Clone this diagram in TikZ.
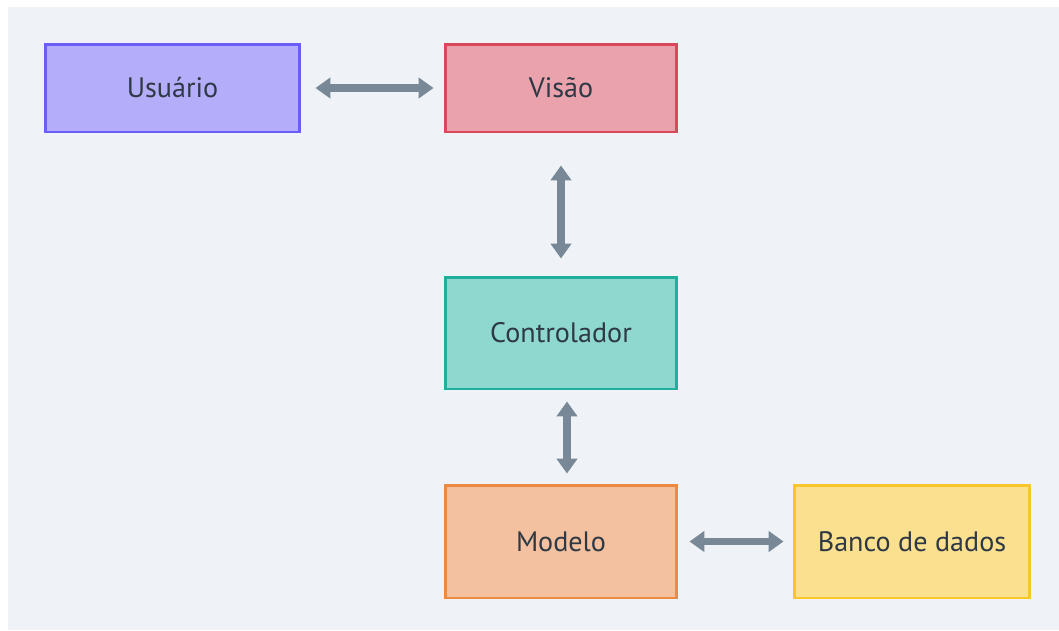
\documentclass[tikz,border=0pt]{standalone}
\usepackage{fontspec}
\setmainfont{PT Sans}
\usetikzlibrary{arrows.meta}
\definecolor{panelbg}{HTML}{EFF3F7}
\definecolor{labeltext}{HTML}{2E3945}
\definecolor{linkgray}{HTML}{788896}
\definecolor{userfill}{HTML}{B3ADFA}
\definecolor{userdraw}{HTML}{6B5EF5}
\definecolor{viewfill}{HTML}{EAA3AD}
\definecolor{viewdraw}{HTML}{D9485B}
\definecolor{ctrlfill}{HTML}{8FD8CF}
\definecolor{ctrldraw}{HTML}{1FB09D}
\definecolor{modelfill}{HTML}{F3C19F}
\definecolor{modeldraw}{HTML}{EC8A40}
\definecolor{dbfill}{HTML}{FBE08F}
\definecolor{dbdraw}{HTML}{F9C62B}
\tikzset{
  box/.style={
    rectangle,
    line width=1.7pt,
    text=labeltext,
    font=\fontsize{16}{18}\selectfont,
    inner sep=0pt
  },
  box-user/.style={box, fill=userfill, draw=userdraw, minimum width=5.1cm, minimum height=1.76cm},
  box-view/.style={box, fill=viewfill, draw=viewdraw, minimum width=4.64cm, minimum height=1.76cm},
  box-ctrl/.style={box, fill=ctrlfill, draw=ctrldraw, minimum width=4.64cm, minimum height=2.24cm},
  box-model/.style={box, fill=modelfill, draw=modeldraw, minimum width=4.64cm, minimum height=2.26cm},
  box-db/.style={box, fill=dbfill, draw=dbdraw, minimum width=4.72cm, minimum height=2.26cm},
  link/.style={
    draw=linkgray,
    line width=4pt,
    {Triangle[width=11.5pt,length=8.5pt]}-{Triangle[width=11.5pt,length=8.5pt]}
  }
}

\begin{document}
\begin{tikzpicture}[x=0.02cm,y=-0.02cm]
  \useasboundingbox (0,0) rectangle (1059,630);
  \fill[panelbg] (8,7) rectangle (1059,630);
  % Boxes
  \node[box-user]  (usuario)     at (172.5,88)  {Usuário};
  \node[box-view]  (visao)       at (561,88)    {Visão};
  \node[box-ctrl]  (controlador) at (561,333)   {Controlador};
  \node[box-model] (modelo)      at (561,541.5) {Modelo};
  \node[box-db]    (banco)       at (912,541.5) {Banco de dados};
  % Links
  \draw[link, shorten <=0.28cm, shorten >=0.2cm] (usuario) -- (visao);
  \draw[link, shorten <=0.64cm, shorten >=0.34cm] (visao) -- (controlador);
  \draw[link, shorten <=0.22cm, shorten >=0.2cm]
    ([xshift=0.12cm]controlador.south) -- ([xshift=0.12cm]modelo.north);
  \draw[link, shorten <=0.22cm, shorten >=0.18cm] (modelo) -- (banco);
\end{tikzpicture}
\end{document}
